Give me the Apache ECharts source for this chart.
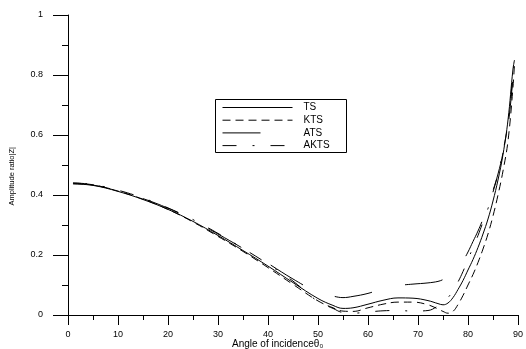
<!DOCTYPE html>
<html><head><meta charset="utf-8">
<script src="https://cdn.jsdelivr.net/npm/echarts@6/dist/echarts.min.js"></script>
<style>html,body{margin:0;padding:0;background:#fff}#c{width:526px;height:349px}</style>
</head><body><div id="c"></div>
<script>
const angles = [1,5,10,15,20,25,30,35,40,45,50,53,55,57,60,63,66,69,72,74,75,76,77,78,79,80,81,82,83,84,85,86,87,88,89,89.3];
const TS   = [0.437,0.432,0.412,0.385,0.352,0.312,0.265,0.215,0.163,0.108,0.055,0.032,0.022,0.024,0.036,0.049,0.057,0.056,0.048,0.038,0.034,0.04,0.058,0.085,0.115,0.15,0.185,0.225,0.27,0.32,0.38,0.45,0.535,0.65,0.82,0.85];
const KTS  = [0.44,0.434,0.413,0.386,0.352,0.31,0.262,0.212,0.158,0.102,0.047,0.024,0.013,0.012,0.024,0.036,0.043,0.043,0.034,0.02,0.012,0.006,0.012,0.035,0.065,0.1,0.135,0.175,0.22,0.27,0.33,0.4,0.48,0.58,0.76,0.84];
const ATS  = [0.438,0.433,0.414,0.388,0.356,0.316,0.27,0.222,0.172,0.12,0.075,0.063,0.058,0.062,0.072,0.088,0.098,0.103,0.107,0.112,0.118,0.127,0.14,0.155,0.18,0.21,0.245,0.28,0.32,0.365,0.415,0.47,0.54,0.63,0.79,0.85];
const AKTS = [0.44,0.435,0.416,0.39,0.357,0.318,0.272,0.222,0.17,0.113,0.045,0.022,0.008,0.006,0.01,0.014,0.015,0.013,0.015,0.03,0.042,0.058,0.08,0.11,0.145,0.185,0.225,0.265,0.31,0.355,0.41,0.47,0.545,0.64,0.8,0.85];
const seriesNames = ['TS','KTS','ATS','AKTS'];
const xName = 'Angle of incidence\u03b8\u2080';
const yName = 'Amplitude ratio|Z|';

const font = 'Liberation Sans, Arial, sans-serif';
const dashes = ['solid', [8,5], [38,34], [14,16,2,16]];
const data = [TS, KTS, ATS, AKTS];
const chart = echarts.init(document.getElementById('c'));
chart.setOption({
  animation: false,
  backgroundColor: '#fff',
  grid: {left: 68, right: 4, top: 15, bottom: 34},
  xAxis: {
    type: 'value', min: 0, max: 90, interval: 10,
    axisLine: {lineStyle: {color: '#000', width: 1}},
    axisTick: {show: true, length: 10, lineStyle: {color: '#000'}},
    minorTick: {show: true, splitNumber: 2, length: 5, lineStyle: {color: '#000'}},
    splitLine: {show: false},
    axisLabel: {color: '#000', fontFamily: font, fontSize: 9, margin: 15}
  },
  yAxis: {
    type: 'value', min: 0, max: 1, interval: 0.2,
    axisLine: {show: true, lineStyle: {color: '#000', width: 1}},
    axisTick: {show: true, length: 15, lineStyle: {color: '#000'}},
    minorTick: {show: true, splitNumber: 2, length: 6, lineStyle: {color: '#000'}},
    splitLine: {show: false},
    axisLabel: {color: '#000', fontFamily: font, fontSize: 9, margin: 25}
  },
  legend: {
    orient: 'vertical', left: 222, top: 102.5, padding: 0,
    itemWidth: 70, itemHeight: 8, itemGap: 2.7,
    itemStyle: {opacity: 0},
    lineStyle: {width: 1},
    textStyle: {color: '#000', fontFamily: font, fontSize: 10, lineHeight: 9, padding: [0,0,0,6]},
    data: seriesNames
  },
  graphic: [
    {type: 'rect', shape: {x: 215.5, y: 99.5, width: 131, height: 53}, style: {fill: 'rgba(0,0,0,0)', stroke: '#000', lineWidth: 1}, z: 10},
    {type: 'text', left: 232, top: 339, style: {text: xName, fill: '#000', font: '10px ' + font}},
    {type: 'text', left: 8, top: 147, rotation: Math.PI/2, style: {text: yName, fill: '#000', font: '7.5px ' + font}}
  ],
  series: seriesNames.map((n, i) => ({
    name: n, type: 'line', smooth: 0.4, showSymbol: false, symbol: 'none',
    lineStyle: {color: '#000', width: 1, type: dashes[i]},
    itemStyle: {color: '#000'},
    data: angles.map((a, k) => [a, data[i][k]])
  }))
});
</script></body></html>
